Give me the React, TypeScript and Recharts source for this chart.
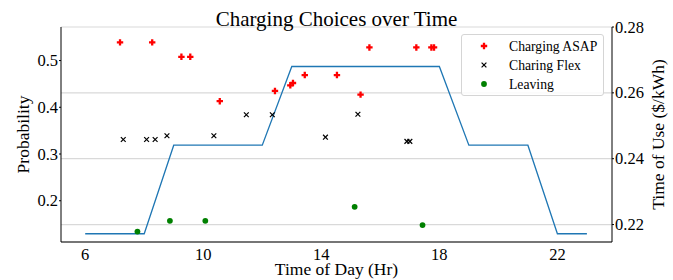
import {
  ComposedChart,
  CartesianGrid,
  Label,
  Legend,
  Line,
  Scatter,
  XAxis,
  YAxis
} from "recharts";

const FONT = "Liberation Serif, Times New Roman, serif";

// time-of-use price, one point per hour
const hours = [6, 7, 8, 9, 10, 11, 12, 13, 14, 15, 16, 17, 18, 19, 20, 21, 22, 23];
const touPrice = [
  0.2172, 0.2172, 0.2172, 0.2441, 0.2441, 0.2441, 0.2441, 0.268, 0.268, 0.268, 0.268, 0.268,
  0.268, 0.2441, 0.2441, 0.2441, 0.2172, 0.2172
];

const asapTime = [7.18, 8.27, 9.26, 9.56, 10.56, 12.43, 12.95, 13.04, 13.44, 14.53, 15.33, 15.63, 17.22, 17.73, 17.82];
const asapProb = [0.539, 0.539, 0.508, 0.508, 0.413, 0.435, 0.447, 0.452, 0.469, 0.469, 0.427, 0.528, 0.528, 0.528, 0.528];

const flexTime = [7.29, 8.08, 8.37, 8.77, 10.36, 11.46, 12.34, 14.14, 15.24, 16.9, 17.0];
const flexProb = [0.331, 0.331, 0.331, 0.339, 0.339, 0.384, 0.384, 0.336, 0.385, 0.327, 0.327];

const leaveTime = [7.77, 8.87, 10.07, 15.13, 17.43];
const leaveProb = [0.134, 0.157, 0.157, 0.187, 0.148];

const xTicks = [6, 10, 14, 18, 22];
const probTicks = [0.2, 0.3, 0.4, 0.5];
const priceTicks = [0.22, 0.24, 0.26, 0.28];

const priceData = hours.map((x, i) => ({ x, price: touPrice[i] }));
const asapData = asapTime.map((x, i) => ({ x, y: asapProb[i] }));
const flexData = flexTime.map((x, i) => ({ x, y: flexProb[i] }));
const leaveData = leaveTime.map((x, i) => ({ x, y: leaveProb[i] }));

function XTick({ x, y, payload }: any) {
  return (
    <text x={x} y={y + 12} textAnchor="middle" fontFamily={FONT} fontSize={16.5} fill="#000">
      {payload.value}
    </text>
  );
}

function LeftTick({ x, y, payload }: any) {
  return (
    <text x={x} y={y + 5.5} textAnchor="end" fontFamily={FONT} fontSize={16.5} fill="#000">
      {Number(payload.value.toFixed(1))}
    </text>
  );
}

function RightTick({ x, y, payload }: any) {
  return (
    <text x={x} y={y + 5.5} textAnchor="start" fontFamily={FONT} fontSize={16.5} fill="#000">
      {payload.value.toFixed(2)}
    </text>
  );
}

function PlusMark({ cx, cy }: any) {
  const a = 3.2;
  const t = 1.15;
  const pts = [
    [-t, -a], [t, -a], [t, -t], [a, -t], [a, t], [t, t],
    [t, a], [-t, a], [-t, t], [-a, t], [-a, -t], [-t, -t]
  ]
    .map(([dx, dy]) => `${cx + dx},${cy + dy}`)
    .join(" ");
  return <polygon points={pts} fill="#ff0000" />;
}

function CrossMark({ cx, cy }: any) {
  const s = 2.4;
  return (
    <g stroke="#000" strokeWidth={1.2}>
      <line x1={cx - s} y1={cy - s} x2={cx + s} y2={cy + s} />
      <line x1={cx - s} y1={cy + s} x2={cx + s} y2={cy - s} />
    </g>
  );
}

function DotMark({ cx, cy }: any) {
  return <circle cx={cx} cy={cy} r={2.9} fill="#008000" />;
}

const legendItems = [
  { name: "Charging ASAP", Mark: PlusMark },
  { name: "Charing Flex", Mark: CrossMark },
  { name: "Leaving", Mark: DotMark }
];

function LegendBox() {
  return (
    <div
      style={{
        width: 141,
        height: 60,
        border: "1px solid #d5d5d5",
        borderRadius: 3,
        background: "rgba(255,255,255,0.85)",
        position: "relative"
      }}
    >
      <svg width={141} height={60} style={{ position: "absolute", left: 0, top: 0 }}>
        {legendItems.map(({ name, Mark }, i) => (
          <g key={name}>
            <Mark cx={22} cy={11 + i * 19} />
            <text x={47} y={16 + i * 19} fontFamily={FONT} fontSize={13.7} fill="#000">
              {name}
            </text>
          </g>
        ))}
      </svg>
    </div>
  );
}

export default function App() {
  return (
    <div style={{ position: "absolute", left: 0, top: 0, background: "#fff" }}>
      <ComposedChart width={673} height={280} margin={{ top: 27, right: 0, bottom: 0, left: 0 }}>
        <CartesianGrid yAxisId="right" horizontal vertical={false} stroke="#d9d9d9" strokeWidth={1.2} />
        <XAxis
          xAxisId="top"
          orientation="top"
          type="number"
          domain={[5.18, 23.85]}
          allowDataOverflow
          height={0}
          tick={false}
          tickLine={false}
          axisLine={{ stroke: "#000", strokeWidth: 1 }}
        />
        <XAxis
          dataKey="x"
          type="number"
          domain={[5.18, 23.85]}
          allowDataOverflow
          ticks={xTicks}
          height={38}
          tick={<XTick />}
          tickSize={2}
          tickMargin={4}
          tickLine={false}
          axisLine={{ stroke: "#000", strokeWidth: 1 }}
        >
          <Label
            content={({ viewBox }: any) => (
              <g>
                <text
                  x={viewBox.x + viewBox.width / 2}
                  y={275}
                  textAnchor="middle"
                  fontFamily={FONT}
                  fontSize={17.5}
                  fill="#000"
                >
                  Time of Day (Hr)
                </text>
                <text
                  x={viewBox.x + viewBox.width / 2}
                  y={25.5}
                  textAnchor="middle"
                  fontFamily={FONT}
                  fontSize={21}
                  fill="#000"
                >
                  Charging Choices over Time
                </text>
              </g>
            )}
          />
        </XAxis>
        <YAxis
          yAxisId="left"
          type="number"
          domain={[0.1117, 0.5718]}
          allowDataOverflow
          ticks={probTicks}
          width={61}
          tick={<LeftTick />}
          tickSize={2}
          tickMargin={1}
          tickLine={{ stroke: "#000" }}
          axisLine={{ stroke: "#000", strokeWidth: 1 }}
        >
          <Label
            content={({ viewBox }: any) => {
              const cx = 23;
              const cy = viewBox.y + viewBox.height / 2;
              return (
                <text
                  x={cx}
                  y={cy}
                  transform={`rotate(-90, ${cx}, ${cy})`}
                  textAnchor="middle"
                  dominantBaseline="central"
                  fontFamily={FONT}
                  fontSize={17.5}
                  fill="#000"
                >
                  Probability
                </text>
              );
            }}
          />
        </YAxis>
        <YAxis
          yAxisId="right"
          orientation="right"
          type="number"
          domain={[0.2147, 0.28]}
          allowDataOverflow
          ticks={priceTicks}
          width={61}
          tick={<RightTick />}
          tickSize={2}
          tickMargin={1}
          tickLine={{ stroke: "#000" }}
          axisLine={{ stroke: "#000", strokeWidth: 1 }}
        >
          <Label
            content={({ viewBox }: any) => {
              const cx = 658;
              const cy = viewBox.y + viewBox.height / 2;
              return (
                <text
                  x={cx}
                  y={cy}
                  transform={`rotate(-90, ${cx}, ${cy})`}
                  textAnchor="middle"
                  dominantBaseline="central"
                  fontFamily={FONT}
                  fontSize={17.5}
                  fill="#000"
                >
                  Time of Use ($/kWh)
                </text>
              );
            }}
          />
        </YAxis>
        <Line
          yAxisId="right"
          data={priceData}
          dataKey="price"
          type="linear"
          stroke="#1f77b4"
          strokeWidth={1.3}
          dot={false}
          activeDot={false}
          isAnimationActive={false}
        />
        <Scatter yAxisId="left" name="Charging ASAP" data={asapData} dataKey="y" shape={PlusMark} isAnimationActive={false} />
        <Scatter yAxisId="left" name="Charing Flex" data={flexData} dataKey="y" shape={CrossMark} isAnimationActive={false} />
        <Scatter yAxisId="left" name="Leaving" data={leaveData} dataKey="y" shape={DotMark} isAnimationActive={false} />
        <Legend
          layout="vertical"
          align="center"
          verticalAlign="middle"
          content={() => <LegendBox />}
          wrapperStyle={{ left: 461, top: 34, width: 143, height: 62 }}
        />
      </ComposedChart>
    </div>
  );
}
